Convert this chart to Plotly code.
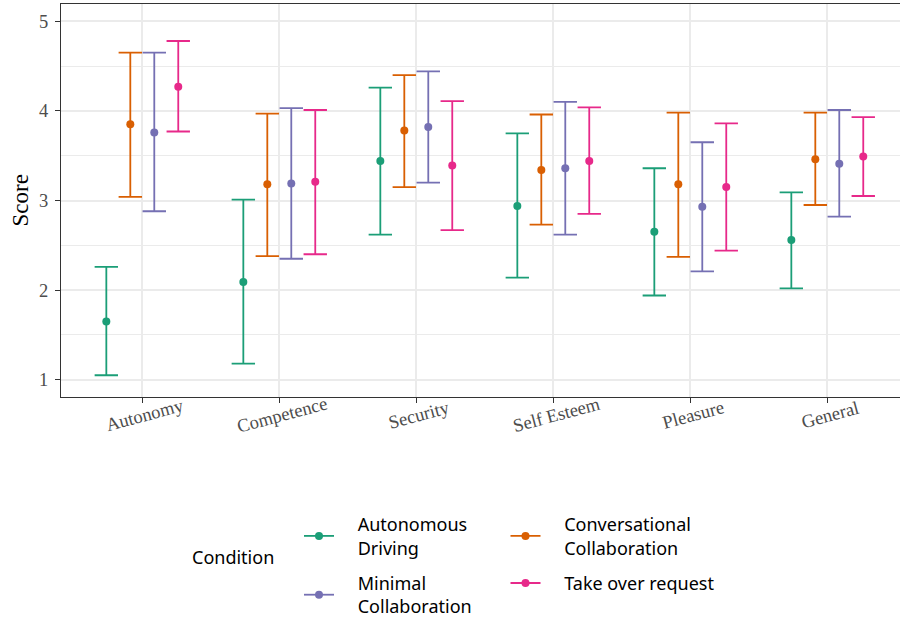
import plotly.graph_objects as go

categories = ["Autonomy", "Competence", "Security", "Self Esteem", "Pleasure", "General"]
conditions = ["Autonomous Driving", "Conversational Collaboration",
              "Minimal Collaboration", "Take over request"]
legend_labels = ["Autonomous<br>Driving", "Conversational<br>Collaboration",
                 "Minimal<br>Collaboration", "Take over request"]
colors = ["#1B9E77", "#D95F02", "#7570B3", "#E7298A"]

# mean score and interval bounds per condition, in category order
mean_ad = [1.65, 2.09, 3.44, 2.94, 2.65, 2.56]
low_ad = [1.05, 1.18, 2.62, 2.14, 1.94, 2.02]
high_ad = [2.26, 3.01, 4.26, 3.75, 3.36, 3.09]

mean_cc = [3.85, 3.18, 3.78, 3.34, 3.18, 3.46]
low_cc = [3.04, 2.38, 3.15, 2.73, 2.37, 2.95]
high_cc = [4.65, 3.97, 4.40, 3.96, 3.98, 3.98]

mean_mc = [3.76, 3.19, 3.82, 3.36, 2.93, 3.41]
low_mc = [2.88, 2.35, 3.20, 2.62, 2.21, 2.82]
high_mc = [4.65, 4.03, 4.44, 4.10, 3.65, 4.01]

mean_tor = [4.27, 3.21, 3.39, 3.44, 3.15, 3.49]
low_tor = [3.77, 2.40, 2.67, 2.85, 2.44, 3.05]
high_tor = [4.78, 4.01, 4.11, 4.04, 3.86, 3.93]

y_ticks = [1, 2, 3, 4, 5]

means = [mean_ad, mean_cc, mean_mc, mean_tor]
lows = [low_ad, low_cc, low_mc, low_tor]
highs = [high_ad, high_cc, high_mc, high_tor]

dodge_width = 0.7
n = len(conditions)
offsets = [dodge_width * ((i + 0.5) / n - 0.5) for i in range(n)]

serif = "Liberation Serif, Times New Roman, serif"
sans = "Noto Sans"
pad = "&nbsp;" * 4  # gap between legend key and label

fig = go.Figure()
for i in range(n):
    xs = [j + offsets[i] for j in range(len(categories))]
    fig.add_trace(go.Scatter(
        x=xs, y=means[i], mode="markers",
        marker=dict(color=colors[i], size=8),
        error_y=dict(type="data", symmetric=False,
                     array=[h - m for h, m in zip(highs[i], means[i])],
                     arrayminus=[m - l for m, l in zip(means[i], lows[i])],
                     color=colors[i], thickness=1.8, width=11.7),
        showlegend=False, hoverinfo="skip"))

# legend entries (line + dot key), two columns
legend_of = ["legend", "legend2", "legend", "legend2"]
for i in range(n):
    label = "<br>".join(pad + part for part in legend_labels[i].split("<br>"))
    fig.add_trace(go.Scatter(
        x=[None], y=[None], mode="lines+markers", name=label,
        line=dict(color=colors[i], width=1.8),
        marker=dict(color=colors[i], size=8),
        legend=legend_of[i], legendgroup=conditions[i], showlegend=True))

annotations = []
for j, c in enumerate(categories):
    annotations.append(dict(
        x=j, y=-0.046, xref="x", yref="paper", text=c, showarrow=False,
        textangle=-15, xanchor="center", yanchor="middle", xshift=3,
        font=dict(family=serif, size=18.5, color="#4D4D4D")))
annotations.append(dict(
    x=-0.0477, y=0.5, xref="paper", yref="paper", text="Score", showarrow=False,
    textangle=-90, xanchor="center", yanchor="middle",
    font=dict(family=serif, size=23, color="#000000")))
annotations.append(dict(
    x=0.205, y=-0.407, xref="paper", yref="paper", text="Condition", showarrow=False,
    xanchor="center", yanchor="middle",
    font=dict(family=sans, size=18, color="#000000")))

legend_common = dict(orientation="v", yanchor="top", xanchor="left",
                     font=dict(family=sans, size=18, color="#000000"),
                     bgcolor="rgba(0,0,0,0)", itemwidth=30, tracegroupgap=9,
                     valign="middle")
legend_top = (397 - 506) / 393

fig.update_layout(
    width=900, height=620,
    font=dict(family=serif),
    margin=dict(l=61, r=0, t=4, b=223, autoexpand=False),
    paper_bgcolor="white", plot_bgcolor="white",
    showlegend=True,
    legend=dict(x=(299 - 61) / 839, y=legend_top, **legend_common),
    legend2=dict(x=(505.5 - 61) / 839, y=legend_top, **legend_common),
    annotations=annotations,
    xaxis=dict(range=[-0.5934, 5.5307], tickvals=list(range(len(categories))),
               showticklabels=False, ticks="outside", ticklen=5, tickwidth=1.3,
               tickcolor="#333333", showgrid=True, gridcolor="#EBEBEB", gridwidth=1.6,
               showline=True, linecolor="#333333", linewidth=1.3, mirror=True,
               zeroline=False),
    yaxis=dict(range=[0.807, 5.193], tickvals=y_ticks, ticks="outside", ticklen=5,
               tickwidth=1.3, tickcolor="#333333", showgrid=True, gridcolor="#EBEBEB",
               gridwidth=1.6, showline=True, linecolor="#333333", linewidth=1.3,
               zeroline=False, ticklabelstandoff=3,
               tickfont=dict(family=serif, size=18.5, color="#4D4D4D"),
               minor=dict(dtick=0.5, showgrid=True, gridcolor="#EBEBEB", gridwidth=0.8)),
)

fig.write_html("out.html", config={"displayModeBar": False},
               post_script="document.body.style.margin='0px';"
                           "document.body.style.overflow='hidden';")
